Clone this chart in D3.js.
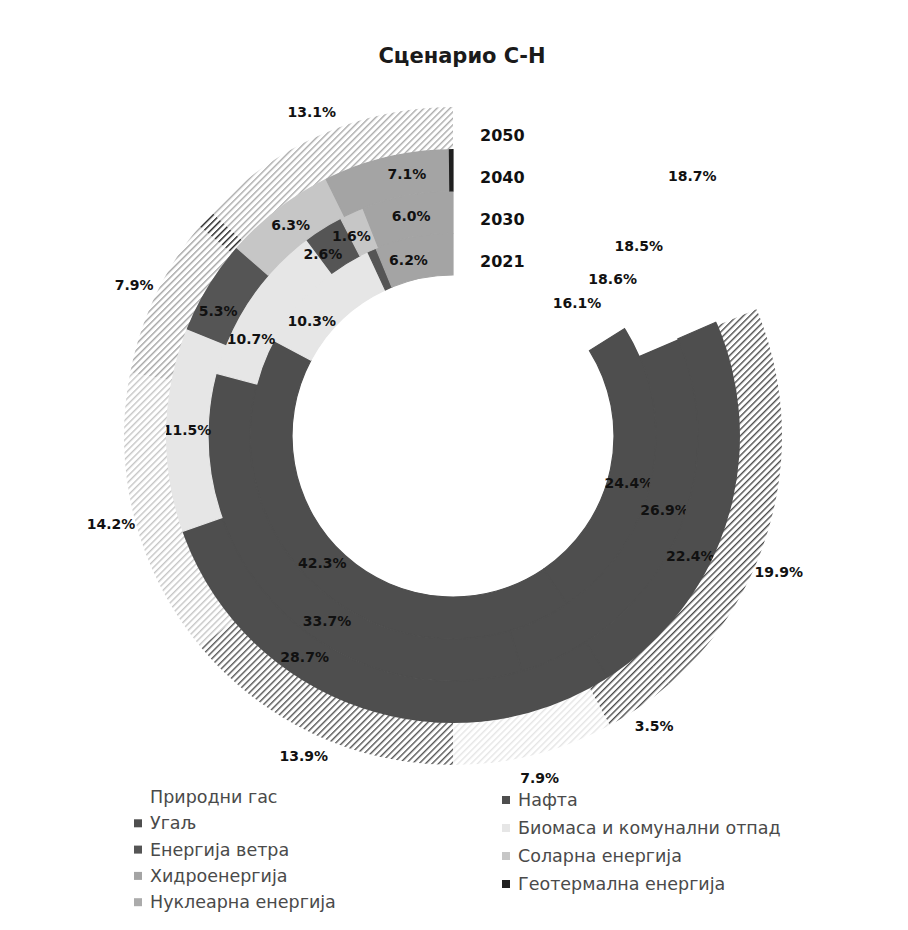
<!DOCTYPE html>
<html><head><meta charset="utf-8">
<script src="https://cdn.jsdelivr.net/npm/d3@7"></script>
<style>body{margin:0;background:#fff}</style>
</head><body><svg id="c" width="908" height="930"></svg>
<script>
const title = "Сценарио С-Н";
const years = ["2021", "2030", "2040", "2050"];
const sources = ["Природни гас", "Нафта", "Угаљ", "Биомаса и комунални отпад", "Енергија ветра",
  "Соларна енергија", "Хидроенергија", "Геотермална енергија", "Нуклеарна енергија"];
const gas        = [16.1, 18.6, 18.5, 18.7];
const oil        = [24.4, 26.9, 22.4, 19.9];
const coal       = [42.3, 33.7, 28.7, 3.5];
const biomass    = [10.3, 10.7, 11.5, 7.9];
const wind       = [0.7, 2.6, 5.3, 13.9];
const solar      = [0, 1.6, 6.3, 14.2];
const hydro      = [6.2, 6.0, 7.1, 7.9];
const geothermal = [0, 0, 0.2, 0.9];
const nuclear    = [0, 0, 0, 13.1];
const seriesValues = [gas, oil, coal, biomass, wind, solar, hydro, geothermal, nuclear];

const colors = ["#ffffff", "#4e4e4e", "#4e4e4e", "#e6e6e6", "#555555", "#c6c6c6", "#a4a4a4", "#202020", "#ababab"];
// label angle nudges (degrees) for manually moved data labels
const labelNudge = {"0-0":14, "0-1":12, "0-2":11, "0-3":9, "1-0":3, "1-1":-6, "1-2":10, "1-3":9.5,
  "2-0":4, "2-1":-10, "2-2":15, "3-0":-7.5, "3-1":-8.5, "4-1":-3.5, "4-2":-3.5, "5-1":-2.5, "6-0":-3, "6-2":3.5};

const svg = d3.select("#c");
const cx = 453, cy = 436;
const rScale = d3.scaleLinear().domain([0, years.length]).range([161, 329]);

// hatch patterns for outer ring
const defs = svg.append("defs");
colors.forEach((c, i) => {
  const p = defs.append("pattern").attr("id", "h" + i).attr("patternUnits", "userSpaceOnUse")
    .attr("width", 4.6).attr("height", 4.6).attr("patternTransform", "rotate(45)");
  p.append("rect").attr("width", 4.6).attr("height", 4.6).attr("fill", "#fff");
  p.append("rect").attr("width", 1.4).attr("height", 4.6).attr("fill", c);
});

svg.append("text").attr("x", 462).attr("y", 56).attr("text-anchor", "middle")
  .attr("dominant-baseline", "central")
  .style("font-family", "'DejaVu Sans'").style("font-weight", "bold").style("font-size", "21px")
  .attr("fill", "#1a1a1a").text(title);

const g = svg.append("g").attr("transform", `translate(${cx},${cy})`);
const pie = d3.pie().sort(null).value(d => d.v).startAngle(0).endAngle(2 * Math.PI);
const fmt = d3.format(".1f");

years.forEach((yr, yi) => {
  const data = seriesValues.map((vals, si) => ({v: vals[yi], si}));
  const arcs = pie(data);
  const r0 = rScale(yi), r1 = rScale(yi + 1);
  const arc = d3.arc().innerRadius(r0).outerRadius(r1);
  const outer = yi === years.length - 1;
  g.selectAll(null).data(arcs.filter(a => a.data.v > 0)).enter().append("path")
    .attr("d", arc)
    .attr("fill", a => outer ? `url(#h${a.data.si})` : colors[a.data.si])
    .attr("stroke", a => (outer || a.data.si === 0) ? "none" : colors[a.data.si])
    .attr("stroke-width", 1.2);
  const lr = outer ? r1 + 24 : (r0 + r1) / 2;
  g.selectAll(null).data(arcs.filter(a => a.data.v >= 1)).enter().append("text")
    .attr("transform", a => {
      const ang = (a.startAngle + a.endAngle) / 2 + (labelNudge[a.data.si + "-" + yi] || 0) * Math.PI / 180;
      return `translate(${lr * Math.sin(ang)},${-lr * Math.cos(ang)})`;
    })
    .attr("text-anchor", "middle").attr("dominant-baseline", "central")
    .style("font-family", "'DejaVu Sans'").style("font-weight", "bold").style("font-size", "14px")
    .attr("fill", "#111").text(a => fmt(a.data.v) + "%");
  g.append("text").attr("x", 27).attr("y", -(r0 + r1) / 2 + 7)
    .attr("dominant-baseline", "central")
    .style("font-family", "'DejaVu Sans'").style("font-weight", "bold").style("font-size", "16px")
    .attr("fill", "#111").text(yr);
});

// legend
const leftIdx = [0, 2, 4, 6, 8], rightIdx = [1, 3, 5, 7];
const legend = svg.append("g").style("font-family", "'DejaVu Sans'").style("font-size", "17.5px");
function legendCol(idx, x, y0, step) {
  idx.forEach((si, k) => {
    const y = y0 + k * step;
    legend.append("rect").attr("x", x).attr("y", y - 4).attr("width", 8).attr("height", 8).attr("fill", colors[si]);
    legend.append("text").attr("x", x + 16).attr("y", y).attr("dominant-baseline", "central")
      .attr("fill", "#4a4a4a").text(sources[si]);
  });
}
legendCol(leftIdx, 134, 797, 26.3);
legendCol(rightIdx, 502, 800, 28);
</script></body></html>
